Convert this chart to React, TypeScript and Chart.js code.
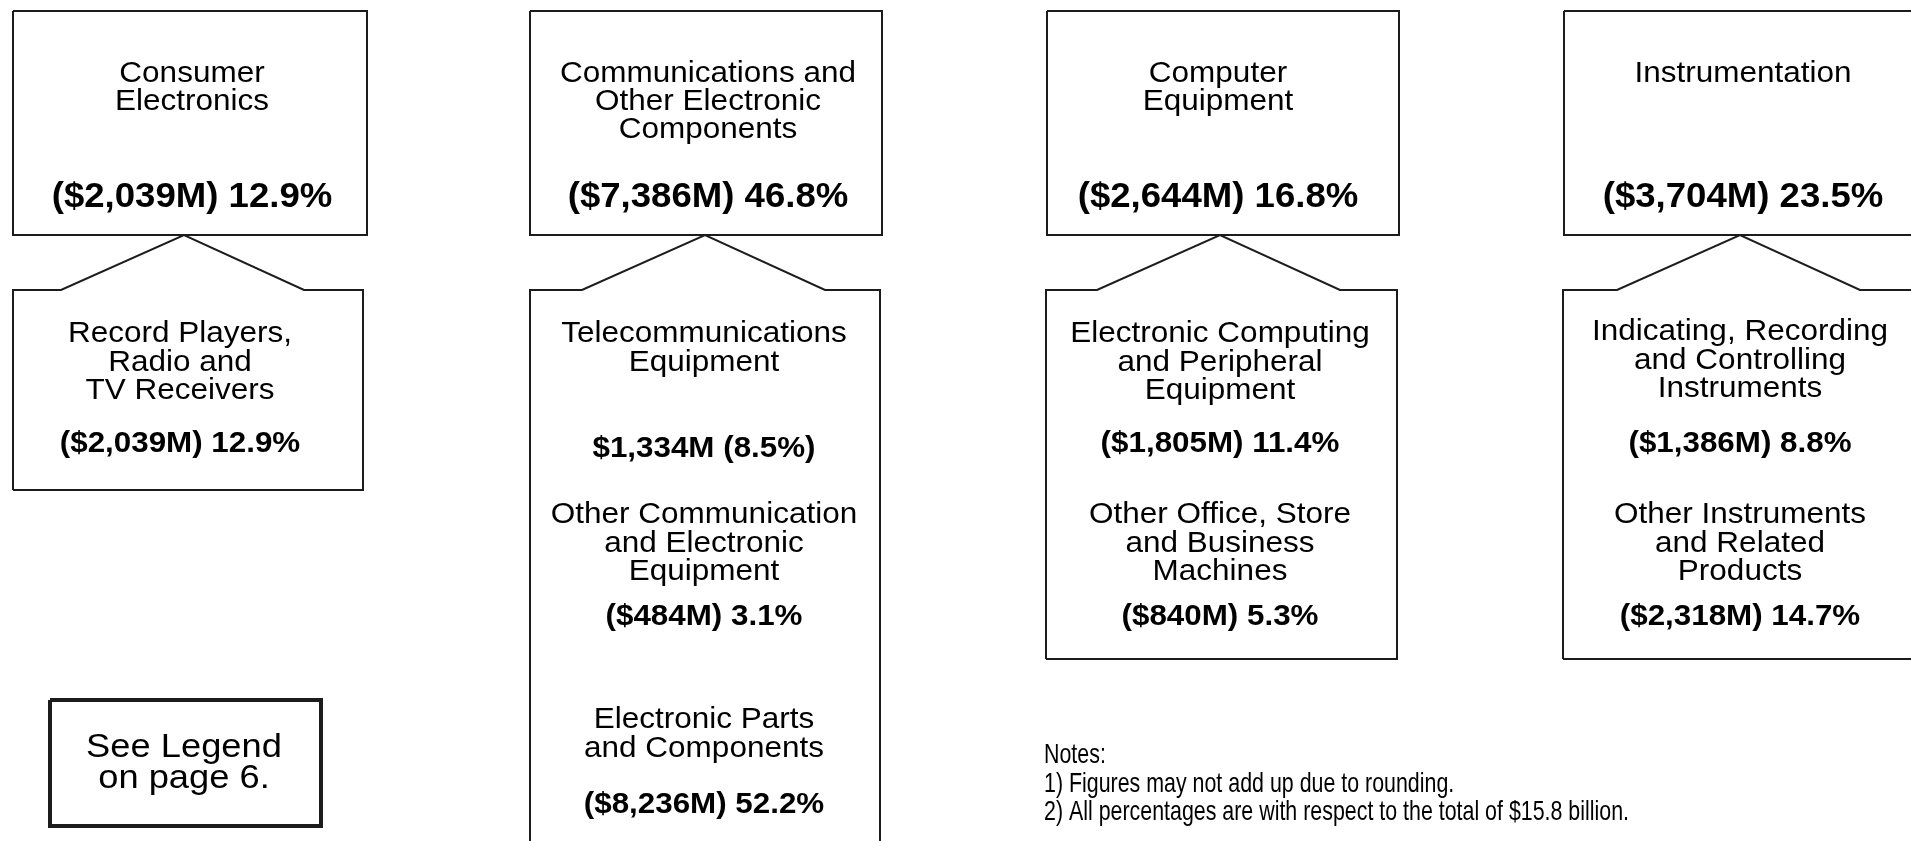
import React, { useEffect, useRef } from "react";
import { Chart, registerables } from "chart.js";

Chart.register(...registerables);

// ---------------- DATA ----------------
const groupNames: string[][] = [
  ["Consumer", "Electronics"],
  ["Communications and", "Other Electronic", "Components"],
  ["Computer", "Equipment"],
  ["Instrumentation"],
];
const groupValuesM: number[] = [2039, 7386, 2644, 3704];
const groupPct: number[] = [12.9, 46.8, 16.8, 23.5];

const subGroup: number[] = [0, 1, 1, 1, 2, 2, 3, 3];
const subNames: string[][] = [
  ["Record Players,", "Radio and", "TV Receivers"],
  ["Telecommunications", "Equipment"],
  ["Other Communication", "and Electronic", "Equipment"],
  ["Electronic Parts", "and Components"],
  ["Electronic Computing", "and Peripheral", "Equipment"],
  ["Other Office, Store", "and Business", "Machines"],
  ["Indicating, Recording", "and Controlling", "Instruments"],
  ["Other Instruments", "and Related", "Products"],
];
const subValuesM: number[] = [2039, 1334, 484, 8236, 1805, 840, 1386, 2318];
const subPct: number[] = [12.9, 8.5, 3.1, 52.2, 11.4, 5.3, 8.8, 14.7];
// label style: "paren" => ($X,XXXM) P%, "pctParen" => $X,XXXM (P%)
const subLabelStyle: string[] = ["paren", "pctParen", "paren", "paren", "paren", "paren", "paren", "paren"];

const legendLines: string[] = ["See Legend", "on page 6."];
const noteLines: string[] = [
  "Notes:",
  "1) Figures may not add up due to rounding.",
  "2) All percentages are with respect to the total of $15.8 billion.",
];

// ---------------- LAYOUT ----------------
const W = 1911;
const H = 841;
const topBoxes = [
  { l: 13, r: 367, apex: 184, cx: 192 },
  { l: 530, r: 882, apex: 705, cx: 708 },
  { l: 1047, r: 1399, apex: 1220, cx: 1218 },
  { l: 1564, r: 1916, apex: 1740, cx: 1743 },
];
const TOP_T = 11;
const TOP_B = 235;
const SUB_T = 290;
const subBoxes = [
  { l: 13, r: 363, b: 490, cx: 180 },
  { l: 530, r: 880, b: 880, cx: 704 },
  { l: 1046, r: 1397, b: 659, cx: 1220 },
  { l: 1563, r: 1915, b: 659, cx: 1740 },
];
// per sub item: first line baseline, value baseline
const subTextPos = [
  { y: 342, v: 452 },
  { y: 342, v: 457 },
  { y: 523, v: 625 },
  { y: 728, v: 813 },
  { y: 342, v: 452 },
  { y: 523, v: 625 },
  { y: 340, v: 452 },
  { y: 523, v: 625 },
];
const LINE_STEP = 28.5;
const legendBox = { l: 50, t: 700, r: 321, b: 826, cx: 184, y: 757, step: 31 };
const notesPos = { x: 1044, y: 763, step: 28.5, width: 585 };

const FONT = '"Liberation Sans", Arial, Helvetica, sans-serif';
const NARROW = '"Liberation Sans Narrow", "Liberation Sans", Arial, sans-serif';

function fmtM(v: number): string {
  return "$" + v.toLocaleString("en-US") + "M";
}
function valueLabel(v: number, p: number, style: string): string {
  if (style === "pctParen") return fmtM(v) + " (" + p.toFixed(1) + "%)";
  return "(" + fmtM(v) + ") " + p.toFixed(1) + "%";
}

export default function App() {
  const ref = useRef<HTMLCanvasElement>(null);

  useEffect(() => {
    document.body.style.margin = "0";
    const canvas = ref.current!;
    const lineColor = "#1c1c1c";

    const datasets: any[] = [];
    const addPoly = (pts: { x: number; y: number }[], bw: number) => {
      datasets.push({
        data: pts,
        showLine: true,
        borderColor: lineColor,
        borderWidth: bw,
        pointRadius: 0,
        fill: false,
        tension: 0,
        clip: 4,
      });
    };
    topBoxes.forEach((b, i) => {
      addPoly(
        [
          { x: b.l, y: TOP_T },
          { x: b.r, y: TOP_T },
          { x: b.r, y: TOP_B },
          { x: b.l, y: TOP_B },
          { x: b.l, y: TOP_T },
        ],
        2
      );
      const s = subBoxes[i];
      addPoly(
        [
          { x: s.l, y: s.b },
          { x: s.l, y: SUB_T },
          { x: b.apex - 123, y: SUB_T },
          { x: b.apex, y: TOP_B },
          { x: b.apex + 120, y: SUB_T },
          { x: s.r, y: SUB_T },
          { x: s.r, y: s.b },
          { x: s.l, y: s.b },
        ],
        2
      );
    });
    addPoly(
      [
        { x: legendBox.l, y: legendBox.t },
        { x: legendBox.r, y: legendBox.t },
        { x: legendBox.r, y: legendBox.b },
        { x: legendBox.l, y: legendBox.b },
        { x: legendBox.l, y: legendBox.t },
      ],
      4
    );

    const bgPlugin = {
      id: "bg",
      beforeDraw(c: any) {
        const ctx = c.ctx;
        ctx.save();
        ctx.fillStyle = "#ffffff";
        ctx.fillRect(0, 0, c.width, c.height);
        ctx.restore();
      },
    };

    const textPlugin = {
      id: "texts",
      afterDatasetsDraw(c: any) {
        const ctx: CanvasRenderingContext2D = c.ctx;
        const xs = c.scales.x;
        const ys = c.scales.y;
        const draw = (
          text: string,
          x: number,
          y: number,
          font: string,
          sx: number,
          align: CanvasTextAlign = "center"
        ) => {
          ctx.save();
          ctx.font = font;
          ctx.fillStyle = "#000";
          ctx.textAlign = align;
          ctx.textBaseline = "alphabetic";
          ctx.translate(xs.getPixelForValue(x), ys.getPixelForValue(y));
          ctx.scale(sx, 1);
          ctx.fillText(text, 0, 0);
          ctx.restore();
        };
        const titleFont = "30px " + FONT;
        const topValFont = "bold 35px " + FONT;
        const subValFont = "bold 30px " + FONT;

        groupNames.forEach((lines, i) => {
          const b = topBoxes[i];
          lines.forEach((ln, k) => draw(ln, b.cx, 82 + k * 28, titleFont, 1.05));
          draw(valueLabel(groupValuesM[i], groupPct[i], "paren"), b.cx, 207, topValFont, 1.045);
        });

        subNames.forEach((lines, i) => {
          const s = subBoxes[subGroup[i]];
          const p = subTextPos[i];
          lines.forEach((ln, k) => draw(ln, s.cx, p.y + k * LINE_STEP, titleFont, 1.05));
          draw(valueLabel(subValuesM[i], subPct[i], subLabelStyle[i]), s.cx, p.v, subValFont, 1.045);
        });

        legendLines.forEach((ln, k) =>
          draw(ln, legendBox.cx, legendBox.y + k * legendBox.step, "33px " + FONT, 1.1)
        );

        const noteFont = "28px " + NARROW;
        ctx.save();
        ctx.font = noteFont;
        const wLong = ctx.measureText(noteLines[2]).width;
        ctx.restore();
        const nsx = notesPos.width / wLong;
        noteLines.forEach((ln, k) =>
          draw(ln, notesPos.x, notesPos.y + k * notesPos.step, noteFont, nsx, "left")
        );
      },
    };

    const chart = new Chart(canvas, {
      type: "scatter",
      data: { datasets },
      options: {
        responsive: false,
        maintainAspectRatio: false,
        animation: false,
        events: [],
        layout: { padding: 0 },
        plugins: {
          legend: { display: false },
          tooltip: { enabled: false },
          title: { display: false },
        },
        scales: {
          x: { type: "linear", min: 0, max: W, display: false },
          y: { type: "linear", min: 0, max: H, reverse: true, display: false },
        },
      },
      plugins: [bgPlugin, textPlugin],
    } as any);

    return () => chart.destroy();
  }, []);

  return (
    <div style={{ position: "absolute", left: 0, top: 0, width: W, height: H, background: "#fff" }}>
      <canvas ref={ref} width={W} height={H} style={{ display: "block", width: W, height: H }} />
    </div>
  );
}
